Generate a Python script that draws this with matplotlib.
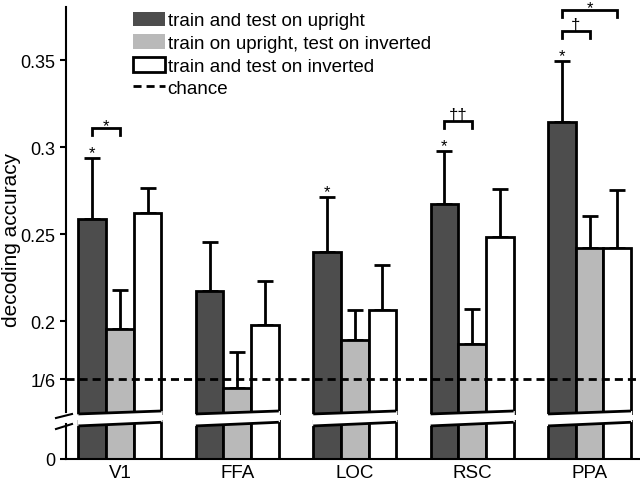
import numpy as np
import matplotlib.pyplot as plt
from matplotlib.patches import Patch, Polygon
from matplotlib.lines import Line2D

plt.rcParams['font.family'] = ['Liberation Sans', 'DejaVu Sans']

regions = ['V1', 'FFA', 'LOC', 'RSC', 'PPA']
upright = [0.2586, 0.2172, 0.2397, 0.2672, 0.3144]
upright_err = [0.0351, 0.0282, 0.0316, 0.0305, 0.0350]
cross = [0.1954, 0.1615, 0.1890, 0.1868, 0.2420]
cross_err = [0.0224, 0.0207, 0.0173, 0.0201, 0.0183]
inverted = [0.2620, 0.1977, 0.2063, 0.2483, 0.2420]
inverted_err = [0.0144, 0.0253, 0.0259, 0.0276, 0.0333]
chance = 1 / 6

labels = ['train and test on upright', 'train on upright, test on inverted',
          'train and test on inverted']
colors = ['#4d4d4d', '#b9b9b9', 'white']

# significance: stars over upright bars, and brackets (region, bar a, bar b, mark, level)
star_over = [0, 2, 3, 4]
brackets = [(0, 0, 1, '*', 0), (3, 0, 1, '\u2020\u2020', 0),
            (4, 0, 1, '\u2020', 0), (4, 0, 2, '*', 1)]

W = 0.2355
x = np.arange(1, 6)
offs = [-W, 0, W]
series = [upright, cross, inverted]
errs = [upright_err, cross_err, inverted_err]

fig = plt.figure(figsize=(6.4, 4.81), dpi=100)
FW, FH = 640, 481
xl = (0.541, 5.430)
dash = (0, (2.9, 1.8))

ax = fig.add_axes([66 / FW, 1 - 416 / FH, 574 / FW, 408 / FH])
axb = fig.add_axes([66 / FW, 1 - 460 / FH, 574 / FW, 39 / FH])

for a in (ax, axb):
    a.set_xlim(*xl)
    a.spines['top'].set_visible(False)
    a.spines['right'].set_visible(False)
    a.spines['left'].set_linewidth(1.5)
    a.spines['bottom'].set_linewidth(1.5)
    a.tick_params(axis='y', direction='out', length=4, width=1.5, labelsize=13)
    a.tick_params(axis='x', length=0, labelsize=13.5)
    a.set_facecolor('none')

ax.set_ylim(0.146, 0.3805)
ax.spines['bottom'].set_visible(False)
ax.spines['left'].set_bounds(0.1475, 0.3805)
ax.set_xticks([])
ax.set_yticks([chance, 0.2, 0.25, 0.3, 0.35])
ax.set_yticklabels(['1/6', '0.2', '0.25', '0.3', '0.35'])

axb.set_ylim(0, 0.0224)
axb.spines['left'].set_bounds(0, 0.0200)
axb.set_yticks([0])
axb.set_yticklabels(['0'])
axb.set_xticks(x)
axb.set_xticklabels(regions)

for k in range(3):
    for a in (ax, axb):
        a.bar(x + offs[k], series[k], W, color=colors[k], edgecolor='black',
              linewidth=2, zorder=2)
    ax.errorbar(x + offs[k], series[k], yerr=[np.zeros(5), errs[k]], fmt='none',
                ecolor='black', elinewidth=2, capsize=6, capthick=2, zorder=1)

# slanted cuts at the axis break
for c in x:
    x0, x1 = c - 1.5 * W - 0.01, c + 1.5 * W + 0.01
    ax.add_patch(Polygon([(x0, 0.10), (x1, 0.10), (x1, 0.1483), (x0, 0.1465)],
                         closed=True, fc='white', ec='none', zorder=3))
    ax.plot([x0 + 0.01, x1 - 0.01], [0.1466, 0.1483], color='black', lw=2,
            zorder=4, clip_on=False, solid_capstyle='butt')
    axb.add_patch(Polygon([(x0, 0.03), (x1, 0.03), (x1, 0.0212), (x0, 0.0189)],
                          closed=True, fc='white', ec='none', zorder=3))
    axb.plot([x0 + 0.01, x1 - 0.01], [0.0190, 0.0211], color='black', lw=2,
             zorder=4, clip_on=False, solid_capstyle='butt')

# break marks on the y axis
for y0, y1 in [(419, 415), (430, 425)]:
    fig.add_artist(Line2D([56 / FW, 72 / FW], [1 - y0 / FH, 1 - y1 / FH],
                          color='black', lw=1.5))

ax.axhline(chance, color='black', lw=2, ls=dash, zorder=5, clip_on=False)

# significance marks
for i in star_over:
    ax.text(x[i] - W, upright[i] + upright_err[i] + 0.0004, '*', ha='center',
            va='baseline', fontsize=12)
for i, a_, b_, s, lev in brackets:
    yb = upright[i] + upright_err[i] + 0.0172 + lev * 0.0122
    xa, xb = x[i] + offs[a_], x[i] + offs[b_]
    ax.plot([xa, xa, xb, xb], [yb - 0.004, yb, yb, yb - 0.004], color='black',
            lw=2, clip_on=False, solid_joinstyle='miter')
    if s == '*':
        ax.text((xa + xb) / 2, yb - 0.0012, s, ha='center', va='baseline',
                fontsize=12)
    else:
        ax.text((xa + xb) / 2, yb + 0.0012, s, ha='center', va='baseline',
                fontsize=12)

handles = [Patch(fc=colors[0], ec='none'), Patch(fc=colors[1], ec='none'),
           Patch(fc='white', ec='black', lw=2),
           Line2D([], [], color='black', lw=2, ls=dash)]
fig.legend(handles, labels + ['chance'], loc='upper left',
           bbox_to_anchor=(133 / FW, 1 - 12.5 / FH), frameon=False, fontsize=13.5,
           handlelength=1.7, handleheight=0.85, handletextpad=0.15,
           labelspacing=0.25, borderpad=0, borderaxespad=0)

fig.text(12 / FW, 1 - 240 / FH, 'decoding accuracy', rotation=90,
         ha='center', va='center', fontsize=15)

fig.savefig('out.png', dpi=100)
